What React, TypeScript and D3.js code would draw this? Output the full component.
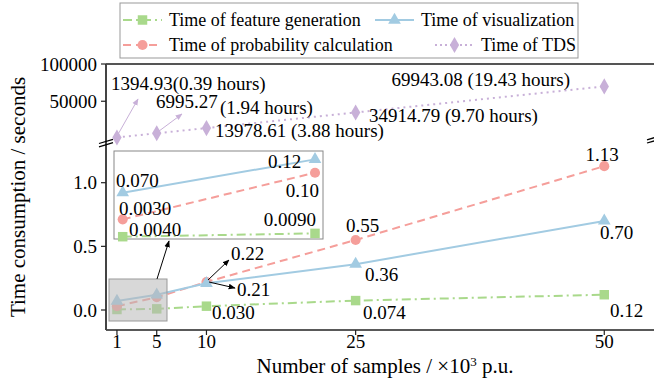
import React from "react";
import * as d3 from "d3";

// samples (x10^3 p.u.)
const samples = [1, 5, 10, 25, 50];
const featureTime = [0.004, 0.009, 0.03, 0.074, 0.12];
const probTime = [0.03, 0.1, 0.22, 0.55, 1.13];
const visTime = [0.07, 0.12, 0.21, 0.36, 0.7];
const tdsTime = [1394.93, 6995.27, 13978.61, 34914.79, 69943.08];

const xTicks = [1, 5, 10, 25, 50];
const yTicksLow = [0, 0.5, 1.0];
const yTicksHigh = [50000, 100000];

const tdsLabels = [
  "1394.93(0.39 hours)",
  "6995.27",
  "13978.61 (3.88 hours)",
  "34914.79 (9.70 hours)",
  "69943.08 (19.43 hours)",
];

const FONT = "'Liberation Serif', 'Times New Roman', serif";
const C_GREEN = "#a9d98b";
const C_RED = "#f59e9a";
const C_BLUE = "#a2cbe2";
const C_PURPLE = "#c8b0d8";

const W = 654;
const H = 378;
const FS = 19;

const series = [
  { name: "Time of feature generation", vals: featureTime, color: C_GREEN, dash: "9,4,2,4", sym: d3.symbolSquare, size: 90 },
  { name: "Time of probability calculation", vals: probTime, color: C_RED, dash: "8,5", sym: d3.symbolCircle, size: 80 },
  { name: "Time of visualization", vals: visTime, color: C_BLUE, dash: null, sym: d3.symbolTriangle, size: 70 },
];

const Sym = ({ x, y, type, size, color }) => (
  <path d={d3.symbol().type(type).size(size)()} transform={`translate(${x},${y})`} fill={color} />
);

export default function App() {
  const x = d3.scaleLinear().domain([0, 55]).range([107, 654]);
  const yLow = d3.scaleLinear().domain([0, 1]).range([310, 182.7]);
  const yHigh = d3.scaleLinear().domain([0, 100000]).range([138.5, 64]);

  // inset scales
  const xi = d3.scaleLinear().domain([1, 5]).range([122.7, 315]);
  const yi = d3.scaleLinear().domain([0.004, 0.07]).range([236.7, 192.7]);

  const lineLow = (vals) =>
    d3.line().x((d, i) => x(samples[i])).y((d) => yLow(d))(vals);
  const lineIn = (vals) =>
    d3.line().x((d, i) => xi(samples[i])).y((d) => yi(d))(vals.slice(0, 2));
  const lineHigh = d3.line().x((d, i) => x(samples[i])).y((d) => yHigh(d))(tdsTime);

  const axisX0 = 106;
  const axisYBottom = 330;
  const axisYTop = 64;

  return (
    <svg width={W} height={H} style={{ position: "absolute", left: 0, top: 0 }} fontFamily={FONT}>
      <defs>
        <marker id="arrB" viewBox="0 0 10 10" refX="9" refY="5" markerWidth="7" markerHeight="7" orient="auto">
          <path d="M0,1 L10,5 L0,9 z" fill="#000" />
        </marker>
        <marker id="arrP" viewBox="0 0 10 10" refX="9" refY="5" markerWidth="7" markerHeight="7" orient="auto">
          <path d="M0,1 L10,5 L0,9 z" fill={C_PURPLE} />
        </marker>
      </defs>
      <rect width={W} height={H} fill="#fff" />

      {/* axes */}
      <line x1={axisX0} x2={W} y1={axisYTop} y2={axisYTop} stroke="#555" strokeWidth={2} />
      <line x1={axisX0} x2={W} y1={axisYBottom} y2={axisYBottom} stroke="#222" strokeWidth={1.5} />
      <line x1={axisX0} x2={axisX0} y1={axisYTop} y2={axisYBottom} stroke="#444" strokeWidth={2} />
      {/* break marks */}
      <g stroke="#000" strokeWidth={1.3}>
        <line x1={99} y1={143.5} x2={113} y2={139.3} />
        <line x1={99} y1={146.8} x2={113} y2={142.6} />
        <line x1={647} y1={139.8} x2={656} y2={137.2} />
        <line x1={647} y1={143} x2={656} y2={140.4} />
      </g>

      {xTicks.map((t) => (
        <g key={t}>
          <line x1={x(t)} x2={x(t)} y1={axisYBottom} y2={axisYBottom + 5} stroke="#222" strokeWidth={1.2} />
          <text x={x(t)} y={348} textAnchor="middle" fontSize={FS}>{t}</text>
        </g>
      ))}
      {yTicksLow.map((t) => (
        <g key={t}>
          <line x1={axisX0 - 5} x2={axisX0} y1={yLow(t)} y2={yLow(t)} stroke="#222" strokeWidth={1.2} />
          <text x={97} y={yLow(t) + 6.5} textAnchor="end" fontSize={FS}>{t.toFixed(1)}</text>
        </g>
      ))}
      {yTicksHigh.map((t) => (
        <g key={t}>
          <line x1={axisX0 - 5} x2={axisX0} y1={yHigh(t)} y2={yHigh(t)} stroke="#222" strokeWidth={1.2} />
          <text x={97} y={yHigh(t) + 6.5} textAnchor="end" fontSize={FS}>{t}</text>
        </g>
      ))}

      <text x={385} y={373} textAnchor="middle" fontSize={21}>
        Number of samples / ×10<tspan dy={-7} fontSize={13}>3</tspan><tspan dy={7}> p.u.</tspan>
      </text>
      <text transform={`translate(25,197) rotate(-90)`} textAnchor="middle" fontSize={21}>
        Time consumption / seconds
      </text>

      {/* TDS series */}
      <path d={lineHigh} fill="none" stroke={C_PURPLE} strokeWidth={2} strokeDasharray="2,4" />
      {tdsTime.map((v, i) => (
        <Sym key={i} x={x(samples[i])} y={yHigh(v)} type={d3.symbolDiamond} size={75} color={C_PURPLE} />
      ))}
      <line x1={x(1) + 1} y1={yHigh(tdsTime[0]) - 3} x2={138} y2={99} stroke={C_PURPLE} strokeWidth={1} markerEnd="url(#arrP)" />
      <line x1={x(5) + 2} y1={yHigh(tdsTime[1]) - 2} x2={182} y2={114} stroke={C_PURPLE} strokeWidth={1} markerEnd="url(#arrP)" />
      <g fontSize={FS}>
        <text x={111} y={90}>{tdsLabels[0]}</text>
        <text x={156} y={108}>{tdsLabels[1]}</text>
        <text x={220} y={114}>(1.94 hours)</text>
        <text x={215} y={137}>{tdsLabels[2]}</text>
        <text x={369} y={122}>{tdsLabels[3]}</text>
        <text x={570} y={86} textAnchor="end">{tdsLabels[4]}</text>
      </g>

      {/* low series */}
      {series.map((s) => (
        <g key={s.name}>
          <path d={lineLow(s.vals)} fill="none" stroke={s.color} strokeWidth={2} strokeDasharray={s.dash || undefined} />
          {s.vals.map((v, i) => (
            <Sym key={i} x={x(samples[i])} y={yLow(v)} type={s.sym} size={s.size} color={s.color} />
          ))}
        </g>
      ))}

      {/* highlighted region */}
      <rect x={109} y={279} width={58} height={42} fill="#b8b8b8" fillOpacity={0.55} stroke="#999" strokeWidth={1} />
      <line x1={157} y1={279} x2={169} y2={241} stroke="#000" strokeWidth={1} markerEnd="url(#arrB)" />

      {/* point labels */}
      <g fontSize={FS}>
        <text x={602} y={161} textAnchor="middle">1.13</text>
        <text x={600} y={239}>0.70</text>
        <text x={610} y={317}>0.12</text>
        <text x={346} y={232}>0.55</text>
        <text x={365} y={281}>0.36</text>
        <text x={363} y={319}>0.074</text>
        <text x={212} y={319}>0.030</text>
        <text x={231} y={260}>0.22</text>
        <text x={237} y={296}>0.21</text>
      </g>
      <line x1={208} y1={280} x2={229} y2={260} stroke="#000" strokeWidth={1} markerEnd="url(#arrB)" />
      <line x1={209} y1={282} x2={235} y2={288} stroke="#000" strokeWidth={1} markerEnd="url(#arrB)" />

      {/* inset */}
      <rect x={114} y={151} width={209} height={88} fill="#fff" stroke="#888" strokeWidth={1} />
      {series.map((s) => (
        <g key={s.name}>
          <path d={lineIn(s.vals)} fill="none" stroke={s.color} strokeWidth={2} strokeDasharray={s.dash || undefined} />
          {s.vals.slice(0, 2).map((v, i) => (
            <Sym key={i} x={xi(samples[i])} y={yi(v)} type={s.sym} size={s.size} color={s.color} />
          ))}
        </g>
      ))}
      <g fontSize={FS}>
        <text x={116} y={187}>0.070</text>
        <text x={268} y={168}>0.12</text>
        <text x={319} y={197} textAnchor="end">0.10</text>
        <text x={119} y={215}>0.0030</text>
        <text x={129} y={236}>0.0040</text>
        <text x={316} y={226} textAnchor="end">0.0090</text>
      </g>

      {/* legend */}
      <rect x={120} y={3} width={458} height={55} fill="#fff" stroke="#999" strokeWidth={1} />
      <g fontSize={18}>
        {[
          { s: series[0], lx: 123, ty: 20, tx: 169 },
          { s: series[2], lx: 375, ty: 20, tx: 421 },
          { s: series[1], lx: 123, ty: 45, tx: 169 },
          { s: { color: C_PURPLE, dash: "2,3", sym: d3.symbolDiamond, size: 75, name: "Time of TDS" }, lx: 435, ty: 45, tx: 481 },
        ].map(({ s, lx, ty, tx }) => (
          <g key={s.name}>
            <line x1={lx} x2={lx + 39} y1={ty} y2={ty} stroke={s.color} strokeWidth={2} strokeDasharray={s.dash || undefined} />
            <Sym x={lx + 19.5} y={ty} type={s.sym} size={s.size} color={s.color} />
            <text x={tx} y={ty + 6}>{s.name}</text>
          </g>
        ))}
      </g>
    </svg>
  );
}
